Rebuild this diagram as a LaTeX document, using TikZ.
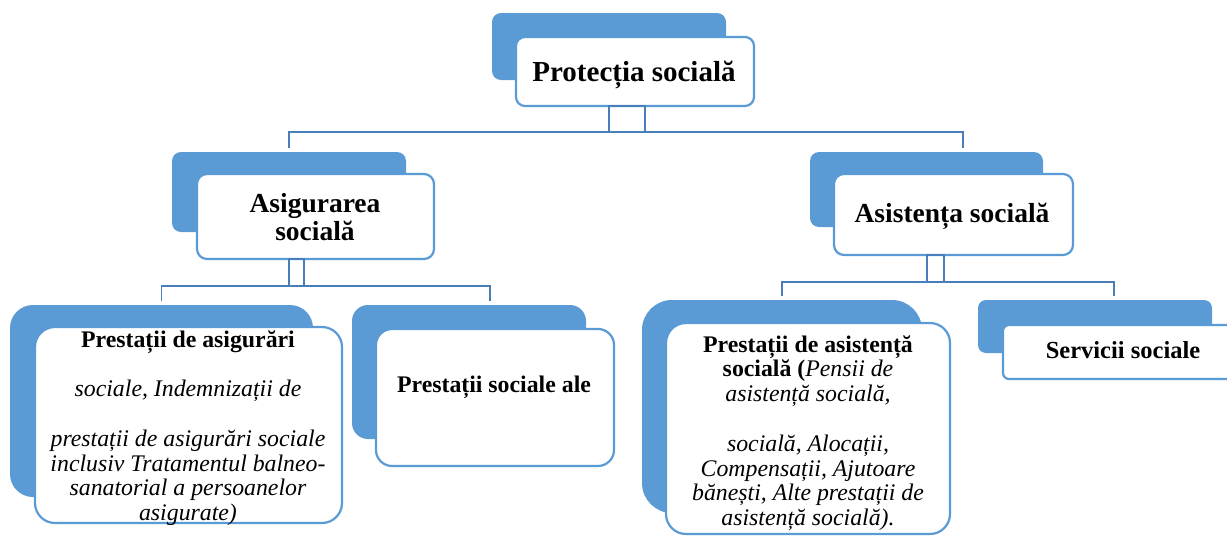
\documentclass[tikz,border=0pt]{standalone}
\usepackage{fontspec}
\setmainfont{Liberation Serif}
\definecolor{fillblue}{HTML}{5B9BD5}
\definecolor{lineblue}{HTML}{4A7EBB}
\begin{document}
\begin{tikzpicture}[x=1pt,y=-1pt,
  back/.style={fill=fillblue, draw=none, inner sep=0pt, outer sep=0pt, anchor=north west},
  front/.style={fill=white, draw=fillblue, line width=2.2pt, inner sep=0pt, outer sep=0pt, anchor=north west},
  conn/.style={draw=lineblue, line width=1.8pt},
  lbl/.style={anchor=base, inner sep=0pt, outer sep=0pt, align=center}]
\useasboundingbox (0,0) rectangle (1227,536);
\clip (0,0) rectangle (1227,536);

% --- top box
\node[back, rounded corners=9pt, minimum width=234pt, minimum height=67pt] (pB) at (492,13) {};
\node[front, rounded corners=9pt, minimum width=238pt, minimum height=69pt] (pW) at (516,37) {};
\node[lbl] (pT) at (634,81) {\fontsize{29}{31}\selectfont\bfseries Protecția socială};

% --- level 2
\node[back, rounded corners=9pt, minimum width=234pt, minimum height=80pt] (aB) at (172,152) {};
\node[front, rounded corners=10pt, minimum width=237pt, minimum height=85pt] (aW) at (197,174) {};
\node[lbl] (aT) at (315,212) {\fontsize{27.5}{28}\selectfont\bfseries\begin{tabular}[t]{@{}c@{}}Asigurarea\\ socială\end{tabular}};

\node[back, rounded corners=9pt, minimum width=233pt, minimum height=75pt] (sB) at (810,152) {};
\node[front, rounded corners=10pt, minimum width=239pt, minimum height=81pt] (sW) at (834,174) {};
\node[lbl] (sT) at (952,222) {\fontsize{27.5}{28}\selectfont\bfseries Asistența socială};

% --- level 3
\node[back, rounded corners=23pt, minimum width=303pt, minimum height=192pt] (b1B) at (10,305) {};
\node[front, rounded corners=20pt, minimum width=307pt, minimum height=196pt] (b1W) at (35,327) {};
\node[lbl] (b1T) at (188,347) {\fontsize{23.8}{24.8}\selectfont\begin{tabular}[t]{@{}c@{}}\textbf{Prestații de asigurări}\\[24.8pt]
\textit{sociale, Indemnizații de}\\[24.8pt]
\textit{prestații de asigurări sociale}\\
\textit{inclusiv Tratamentul balneo-}\\
\textit{sanatorial a persoanelor}\\
\textit{asigurate)}\end{tabular}};

\node[back, rounded corners=16pt, minimum width=234pt, minimum height=134pt] (b2B) at (352,305) {};
\node[front, rounded corners=16pt, minimum width=238pt, minimum height=137pt] (b2W) at (376,329) {};
\node[lbl] (b2T) at (494,392) {\fontsize{23.8}{24.8}\selectfont\bfseries Prestații sociale ale};

\node[back, rounded corners=30pt, minimum width=280pt, minimum height=213pt] (b3B) at (642,300) {};
\node[front, rounded corners=20pt, minimum width=284pt, minimum height=211pt] (b3W) at (666,323) {};
\node[lbl] (b3T) at (808,352) {\fontsize{23.8}{24.8}\selectfont\begin{tabular}[t]{@{}c@{}}\textbf{Prestații de asistență}\\
\textbf{socială (}\textit{Pensii de}\\
\textit{asistență socială,}\\[24.8pt]
\textit{socială, Alocații,}\\
\textit{Compensații, Ajutoare}\\
\textit{bănești, Alte prestații de}\\
\textit{asistență socială).}\end{tabular}};

\node[back, rounded corners=8pt, minimum width=234pt, minimum height=53pt] (b4B) at (978,300) {};
\node[front, rounded corners=6pt, minimum width=237pt, minimum height=54pt] (b4W) at (1003,325) {};
\node[lbl] (b4T) at (1123,358) {\fontsize{24.5}{26}\selectfont\bfseries Servicii sociale};

% --- connectors
\coordinate (topbar) at (627,132);
\coordinate (sDrop) at (963,148);
\draw[conn] ([xshift=-26pt]pW.south) rectangle ([xshift=10pt]pW.south |- topbar);
\draw[conn] ([yshift=4pt]aB.north) |- (sDrop |- topbar) -- (sDrop);

\coordinate (abar) at (296,286);
\coordinate (b2drop) at (490,301);
\draw[conn] ([xshift=-26.5pt]aW.south) rectangle ([xshift=-11.5pt]aW.south |- abar);
\draw[conn] ([yshift=4pt]b1B.north) |- (b2drop |- abar) -- (b2drop);

\coordinate (sbar) at (935,282);
\coordinate (b4drop) at (1114,296);
\draw[conn] ([xshift=-26.5pt]sW.south) rectangle ([xshift=-9.5pt]sW.south |- sbar);
\draw[conn] ([yshift=4pt]b3B.north) |- (b4drop |- sbar) -- (b4drop);
\end{tikzpicture}
\end{document}
